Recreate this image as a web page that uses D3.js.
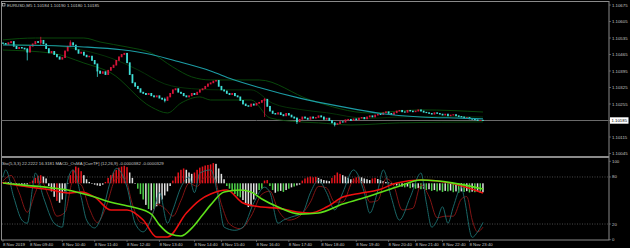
<!DOCTYPE html>
<html><head><meta charset="utf-8">
<script src="https://cdn.jsdelivr.net/npm/d3@7"></script>
<style>html,body{margin:0;padding:0;background:#000;overflow:hidden}</style>
</head><body><svg id="c" width="630" height="248"></svg>
<script>
// ---------- DATA ----------
const symbolTitle = "EURUSD,M5  1.10184  1.10190  1.10180  1.10185";
const subTitle = "Sto(5,3,3) 22.2222 16.3181   MACD_OsMA [CurrTF] (12,26,9) -0.0000382 -0.0000329";
const priceBase = 1.1;      // closes are in points above 1.10000
const pointSize = 0.00001;
const firstOpen = 514;
const closes = [512,508,515,520,500,490,495,492,488,475,
500,510,520,516,525,510,490,472,478,465,
455,445,452,480,500,515,505,485,470,475,
462,455,458,440,425,395,385,392,380,398,
410,420,440,455,465,470,430,380,345,330,
320,305,300,295,300,290,285,290,280,275,
270,285,300,315,320,305,300,290,285,290,
300,295,305,315,320,330,340,345,352,355,
330,315,310,300,295,300,290,285,270,255,
248,245,255,250,258,262,270,275,245,225,
215,212,218,210,205,215,208,200,195,180,
190,200,195,190,200,195,198,205,200,190,
195,185,175,168,172,180,178,188,190,185,
192,188,195,198,192,200,205,200,208,212,
210,218,222,215,210,218,225,228,222,220,
228,225,222,225,230,225,220,218,215,212,
218,215,212,208,212,205,208,210,205,202,
200,196,198,192,190,188,185,186,185];
const wickBars  = [9,14,25,35,60,97,109,123];
const wickHighs = [492,540,525,400,282,280,198,178];
const wickLows  = [440,505,498,370,262,200,170,160];

const maBars = [0,15,30,44,55,65,77,85,95,110,125,140,155,170,178];
const maVals = [505,503,497,485,465,435,395,360,325,280,245,215,200,195,192];
const bbUpperBars = [0,12,30,36,46,55,63,70,77,95,114,136,155,178];
const bbUpperVals = [527,535,535,518,497,471,412,370,357,357,272,217,230,221];
const bbMidBars = [0,18,30,40,50,60,70,80,92,100,110,120,135,150,165,178];
const bbMidVals = [508,503,482,450,400,340,320,315,315,258,232,218,194,201,201,200];
const bbLowerBars = [0,18,30,40,55,61,66,73,77,92,99,110,117,129,147,178];
const bbLowerVals = [484,471,429,387,242,217,259,285,272,272,196,179,175,166,175,179];

const priceTicks = [1.10675,1.10605,1.10535,1.10465,1.10395,1.10325,1.10255,1.10185,1.10115,1.10045];
const currentPrice = 1.10185;

// OsMA histogram (units of 1e-6) and colour codes r/w/g
const osma = [5,6,4,3,-3,-5,-6,-8,-5,-4,
3,10,20,28,30,25,18,-10,-30,-50,
-65,-72,-60,-30,0,30,50,62,58,45,
30,15,5,0,-5,-8,-10,-5,5,20,
30,40,50,58,62,65,60,40,20,0,
-20,-40,-60,-80,-95,-100,-95,-85,-75,-60,
-45,-30,-10,10,25,40,50,55,50,40,
35,40,50,58,62,66,68,70,75,72,
55,35,15,-10,-20,-30,-40,-48,-52,-62,
-75,-88,-85,-60,-40,-25,-20,10,12,-10,
-25,-35,-30,-28,-32,-25,-20,-15,-12,-8,
-5,10,18,22,25,22,24,20,15,12,
10,8,20,30,40,35,30,25,20,15,
18,22,25,22,18,15,12,18,20,16,
12,8,5,3,0,-5,-8,-10,-12,-15,
-12,-18,-15,-20,-18,-22,-20,-25,-22,-28,
-25,-30,-26,-32,-28,-30,-27,-33,-30,-35,
-30,-32,-29,-34,-31,-33,-30,-35,-33];
const osmaColors = "rrwwgwgwww"+"rrrrrwwwww"+"rwwwwrrrrr"+"wwwwwwwwrr"+"rrrrrrrwww"+
"gggwgwgwww"+"wwwrrrrrww"+"wrrrrrrrrw"+"wwwggggggw"+"wwwwwggrrg"+
"gwgwgwgwgw"+"wrrrrrrwww"+"wwrrrrwwww"+"rrrwwwwrrw"+"wwwwwgwgwg"+
"wgwgwgwgwg"+"wgwgwgwgwg"+"wgwgwgwgw";

const macdGreenBars = [0,7,18,24,34,40,48,55,58,62,66,70,74,77,82,88,92,96,102,110,117,126,136,146,155,178];
const macdGreenVals = [1,-6,-17,-25,-51,-70,-88,-114,-154,-188,-195,-166,-117,-80,-32,-25,-32,-58,-88,-114,-110,-77,-47,-14,12,-21];
const macdRedBars = [0,7,18,24,29,34,40,46,52,57,61,68,73,77,83,89,96,102,109,114,120,126,133,139,146,155,166,178];
const macdRedVals = [1,-10,-25,-36,-32,-51,-99,-99,-136,-199,-199,-110,-62,-40,-25,-73,-88,-92,-106,-110,-88,-51,-36,-25,1,12,1,-36];

const stochMainBars = [0,1,4,7,9,11,12,15,19,22,24,26,29,31,34,36,40,42,46,49,52,56,58,61,63,66,69,71,73,77,80,82,86,89,93,97,99,102,104,107,111,114,117,120,123,126,130,134,136,139,141,144,147,151,155,157,159,161,163,165,167,170,171,174,176,178];
const stochMainVals = [80,89,54,25,21,67,85,54,21,16,76,89,54,25,15,25,76,91,67,21,10,38,60,21,38,67,80,60,85,89,51,16,12,16,47,67,60,21,25,29,34,60,76,60,38,60,89,60,34,63,89,54,25,54,85,47,16,25,42,21,42,67,54,3,10,22];
const stochSigBars = [0,3,6,9,12,14,17,20,23,26,29,32,35,38,42,45,48,51,54,57,60,63,66,69,72,75,78,81,84,88,92,96,99,102,106,110,114,117,120,123,126,130,133,136,139,142,145,148,152,155,158,161,164,167,170,172,174,176,178];
const stochSigVals = [75,82,60,35,60,75,55,30,35,75,70,40,22,40,78,80,45,22,20,45,40,30,50,72,68,80,80,45,20,14,30,58,62,38,25,30,48,68,66,48,48,75,74,48,50,78,68,38,40,70,55,28,30,30,52,55,25,10,16];
const stochLevels = [100,80,20,0];
const stochDotted = [80,20];

const timeLabels = ["8 Nov 2019","8 Nov 09:40","8 Nov 10:40","8 Nov 11:40","8 Nov 12:40","8 Nov 13:40","8 Nov 14:40","8 Nov 15:40","8 Nov 16:40","8 Nov 17:40","8 Nov 18:40","8 Nov 19:40","8 Nov 20:40","8 Nov 21:40","8 Nov 22:40","8 Nov 23:40"];
const timeBars = [0,10,22,34,46,58,71,81,94,106,118,131,143,153,163,173];

// ---------- DRAW ----------
const svg = d3.select("#c");
const FONT = "Liberation Sans, Arial, sans-serif";
const TXT = "#c8c8c8", FRAME = "#8a8a8a";
svg.append("rect").attr("width",630).attr("height",248).attr("fill","#000");

const N = closes.length;
const x = d3.scaleLinear().domain([0, N-1]).range([3, 483]);
const yP = d3.scaleLinear().domain([1.10045, 1.10675]).range([153.5, 5]);
const yS = d3.scaleLinear().domain([0, 100]).range([239.7, 161.3]);
const yM = d3.scaleLinear().domain([0, 100]).range([183.3, 156.3]);
const price = p => priceBase + p * pointSize;

const defs = svg.append("defs");
defs.append("clipPath").attr("id","cTop").append("rect").attr("x",1.5).attr("y",1.5).attr("width",607).attr("height",155);
defs.append("clipPath").attr("id","cBot").append("rect").attr("x",1.5).attr("y",158).attr("width",607).attr("height",81.5);

// frames
const fr = svg.append("g").attr("stroke",FRAME).attr("stroke-width",1).attr("fill","none");
fr.append("rect").attr("x",1.5).attr("y",1.5).attr("width",607.5).attr("height",155);
fr.append("rect").attr("x",1.5).attr("y",157.5).attr("width",607.5).attr("height",82.5);

// top panel
const topG = svg.append("g").attr("clip-path","url(#cTop)");
topG.append("line").attr("x1",0).attr("x2",609).attr("y1",Math.round(yP(currentPrice))+0.5).attr("y2",Math.round(yP(currentPrice))+0.5)
  .attr("stroke","#6a6a6a").attr("stroke-width",1);

const pLine = d3.line().x(d=>x(d[0])).y(d=>yP(price(d[1]))).curve(d3.curveMonotoneX);
const zip = (a,b)=>a.map((v,i)=>[v,b[i]]);
const bbColor = "#0a4f0c";
topG.append("path").attr("d",pLine(zip(bbUpperBars,bbUpperVals))).attr("fill","none").attr("stroke",bbColor).attr("stroke-width",0.9);
topG.append("path").attr("d",pLine(zip(bbLowerBars,bbLowerVals))).attr("fill","none").attr("stroke",bbColor).attr("stroke-width",0.9);
topG.append("path").attr("d",pLine(zip(bbMidBars,bbMidVals))).attr("fill","none").attr("stroke","#083d0a").attr("stroke-width",0.8);

// candles
const opens = closes.map((c,i)=> i===0 ? firstOpen : closes[i-1]);
const cg = topG.append("g");
wickBars.forEach((b,k)=>{
  const up = closes[b] >= opens[b];
  cg.append("line").attr("x1",x(b)).attr("x2",x(b))
    .attr("y1",yP(price(wickHighs[k]))).attr("y2",yP(price(wickLows[k])))
    .attr("stroke", up ? "#d8143a" : "#3fe0d8").attr("stroke-width",0.8);
});
closes.forEach((c,i)=>{
  const o = opens[i], up = c >= o;
  const y1 = yP(price(Math.max(o,c))), y2 = yP(price(Math.min(o,c)));
  cg.append("rect").attr("x",x(i)-0.9).attr("width",1.8)
    .attr("y",y1-0.4).attr("height",Math.max(0.8,y2-y1+0.8))
    .attr("fill", up ? "#d8143a" : "#3fe0d8");
});
topG.append("path").attr("d",pLine(zip(maBars,maVals))).attr("fill","none").attr("stroke","#1c9ca4").attr("stroke-width",1.1);

// title
svg.append("rect").attr("x",2.5).attr("y",3.5).attr("width",2.5).attr("height",2.5).attr("fill","none").attr("stroke","#ddd").attr("stroke-width",0.6);
svg.append("text").attr("x",7).attr("y",5).attr("dominant-baseline","central")
  .attr("font-family",FONT).attr("font-size",4.3).attr("fill",TXT).text(symbolTitle);

// price axis
const pa = svg.append("g").attr("font-family",FONT).attr("font-size",4.3);
priceTicks.forEach(t=>{
  const yy = yP(t);
  pa.append("line").attr("x1",609).attr("x2",611).attr("y1",yy).attr("y2",yy).attr("stroke",FRAME).attr("stroke-width",0.6);
  if (Math.abs(t-currentPrice) < 1e-9) {
    pa.append("rect").attr("x",610).attr("y",yy-3.2).attr("width",18.5).attr("height",6.4).attr("fill","#fff");
    pa.append("text").attr("x",611.5).attr("y",yy).attr("dominant-baseline","central").attr("fill","#000").text(t.toFixed(5));
  } else {
    pa.append("text").attr("x",612).attr("y",yy).attr("dominant-baseline","central").attr("fill",TXT).text(t.toFixed(5));
  }
});

// bottom panel
const botG = svg.append("g").attr("clip-path","url(#cBot)");
stochDotted.forEach(v=>{
  botG.append("line").attr("x1",2).attr("x2",609).attr("y1",yS(v)).attr("y2",yS(v))
    .attr("stroke","#7a7a7a").attr("stroke-width",0.6).attr("stroke-dasharray","1,1.5");
});
const colMap = {r:"#e8141c", w:"#e0e0e0", g:"#4fd24a"};
osma.forEach((v,i)=>{
  const a = yM(0), b = yM(v);
  botG.append("rect").attr("x",x(i)-0.8).attr("width",1.5)
    .attr("y",Math.min(a,b)).attr("height",Math.max(0.6,Math.abs(b-a)))
    .attr("fill",colMap[osmaColors[i]]);
});
const sLine = d3.line().x(d=>x(d[0])).y(d=>yS(d[1])).curve(d3.curveMonotoneX);
const mLine = d3.line().x(d=>x(d[0])).y(d=>yM(d[1])).curve(d3.curveMonotoneX);
botG.append("path").attr("d",sLine(zip(stochSigBars,stochSigVals))).attr("fill","none").attr("stroke","#8e1616").attr("stroke-width",0.9);
botG.append("path").attr("d",sLine(zip(stochMainBars,stochMainVals))).attr("fill","none").attr("stroke","#1d7272").attr("stroke-width",0.9);
botG.append("path").attr("d",mLine(zip(macdRedBars,macdRedVals))).attr("fill","none").attr("stroke","#ee1010").attr("stroke-width",1.6);
botG.append("path").attr("d",mLine(zip(macdGreenBars,macdGreenVals))).attr("fill","none").attr("stroke","#5ee01a").attr("stroke-width",1.6);

svg.append("text").attr("x",2).attr("y",163).attr("dominant-baseline","central")
  .attr("font-family",FONT).attr("font-size",4.3).attr("fill",TXT).text(subTitle);

const sa = svg.append("g").attr("font-family",FONT).attr("font-size",4.3).attr("fill",TXT);
stochLevels.forEach(v=>{
  const yy = yS(v);
  sa.append("line").attr("x1",609).attr("x2",611).attr("y1",yy).attr("y2",yy).attr("stroke",FRAME).attr("stroke-width",0.6);
  sa.append("text").attr("x",612).attr("y",yy).attr("dominant-baseline","central").text(v);
});

// time axis
const ta = svg.append("g").attr("font-family",FONT).attr("font-size",4.3).attr("fill",TXT);
timeLabels.forEach((t,k)=>{
  const xx = x(timeBars[k]);
  ta.append("line").attr("x1",xx).attr("x2",xx).attr("y1",240).attr("y2",242).attr("stroke",FRAME).attr("stroke-width",0.6);
  ta.append("text").attr("x",xx).attr("y",244.5).attr("dominant-baseline","central").text(t);
});
</script>
</body></html>
